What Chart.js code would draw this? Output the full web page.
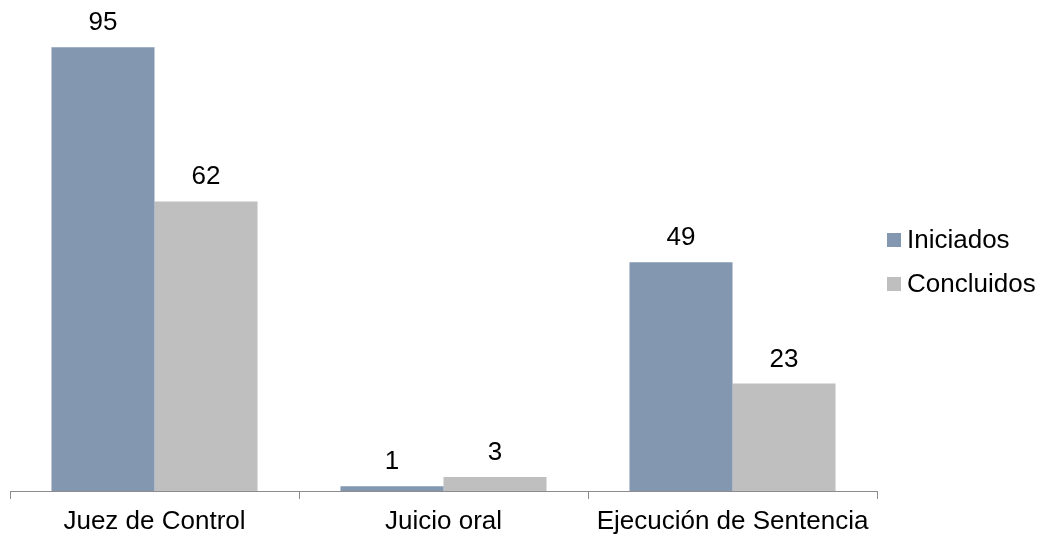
<!DOCTYPE html>
<html>
<head>
<meta charset="utf-8">
<script src="https://cdn.jsdelivr.net/npm/chart.js@4"></script>
<style>
  html, body { margin: 0; padding: 0; background: #fff; }
  #wrap { width: 1044px; height: 538px; }
</style>
</head>
<body>
<div id="wrap"><canvas id="chart"></canvas></div>
<script>
const categories = ["Juez de Control", "Juicio oral", "Ejecución de Sentencia"];
const iniciados = [95, 1, 49];
const concluidos = [62, 3, 23];
const seriesNames = ["Iniciados", "Concluidos"];
const colors = ["#8497B0", "#BFBFBF"];

const FONT = "'Liberation Sans', Arial, sans-serif";
const SIZE = 26;

// numbers over each bar
const valueLabels = {
  id: "valueLabels",
  afterDatasetsDraw(chart) {
    const ctx = chart.ctx;
    ctx.save();
    ctx.font = SIZE + "px " + FONT;
    ctx.fillStyle = "#000";
    ctx.textAlign = "center";
    ctx.textBaseline = "alphabetic";
    chart.data.datasets.forEach((ds, i) => {
      chart.getDatasetMeta(i).data.forEach((bar, j) => {
        ctx.fillText(String(ds.data[j]), bar.x, bar.y - 17);
      });
    });
    ctx.restore();
  },
};

// legend on the right, drawn by hand
const sideLegend = {
  id: "sideLegend",
  afterDraw(chart) {
    const ctx = chart.ctx;
    ctx.save();
    ctx.font = SIZE + "px " + FONT;
    ctx.textBaseline = "middle";
    chart.data.datasets.forEach((ds, i) => {
      const cy = 240 + i * 44;
      ctx.fillStyle = ds.backgroundColor;
      ctx.fillRect(887, cy - 7, 14, 14);
      ctx.fillStyle = "#000";
      ctx.fillText(ds.label, 907, cy + 1);
    });
    ctx.restore();
  },
};

new Chart(document.getElementById("chart"), {
  type: "bar",
  data: {
    labels: categories,
    datasets: [
      { label: seriesNames[0], data: iniciados, backgroundColor: colors[0] },
      { label: seriesNames[1], data: concluidos, backgroundColor: colors[1] },
    ],
  },
  options: {
    responsive: true,
    maintainAspectRatio: false,
    animation: false,
    layout: { padding: { left: 10, right: 167, top: 24, bottom: -7 } },
    categoryPercentage: 0.713,
    barPercentage: 1.0,
    plugins: { legend: { display: false }, tooltip: { enabled: false } },
    scales: {
      x: {
        offset: true,
        grid: {
          offset: true,
          drawOnChartArea: false,
          drawTicks: true,
          tickLength: 8,
          color: "#8C8C8C",
        },
        border: { color: "#8C8C8C", width: 1 },
        ticks: {
          color: "#000",
          padding: 10,
          maxRotation: 0,
          font: { family: FONT, size: SIZE, lineHeight: 1.0 },
        },
      },
      y: {
        display: false,
        min: 0,
        max: 100,
      },
    },
  },
  plugins: [valueLabels, sideLegend],
});
</script>
</body>
</html>
